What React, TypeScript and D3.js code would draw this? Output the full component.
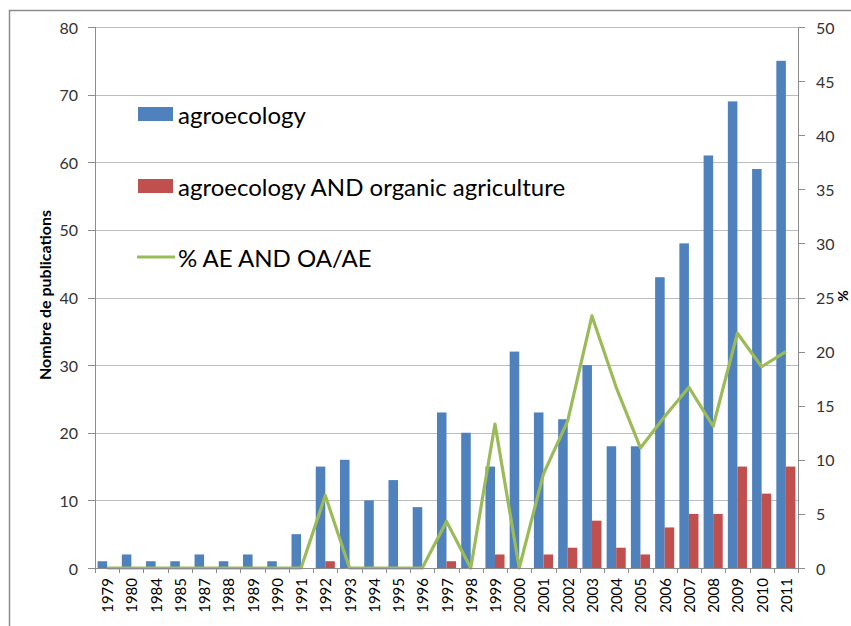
import React from 'react'
import * as d3 from 'd3'

// data
const years = ['1979', '1980', '1984', '1985', '1987', '1988', '1989', '1990', '1991', '1992', '1993', '1994', '1995', '1996', '1997', '1998', '1999', '2000', '2001', '2002', '2003', '2004', '2005', '2006', '2007', '2008', '2009', '2010', '2011']
const agroecology = [1, 2, 1, 1, 2, 1, 2, 1, 5, 15, 16, 10, 13, 9, 23, 20, 15, 32, 23, 22, 30, 18, 18, 43, 48, 61, 69, 59, 75]
const organic = [0, 0, 0, 0, 0, 0, 0, 0, 0, 1, 0, 0, 0, 0, 1, 0, 2, 0, 2, 3, 7, 3, 2, 6, 8, 8, 15, 11, 15]
const percent = [0, 0, 0, 0, 0, 0, 0, 0, 0, 6.7, 0, 0, 0, 0, 4.3, 0, 13.3, 0, 8.7, 13.6, 23.3, 16.7, 11.1, 14, 16.7, 13.1, 21.7, 18.6, 20]
const leftTicks = [0, 10, 20, 30, 40, 50, 60, 70, 80]
const rightTicks = [0, 5, 10, 15, 20, 25, 30, 35, 40, 45, 50]
const seriesNames = ['agroecology', 'agroecology AND organic agriculture', '% AE AND OA/AE']

const W = 851
const H = 626
const font = 'Lato, "Open Sans", sans-serif'

const App = () => {
  const plot = { left: 95, right: 798, top: 27, bottom: 568 }

  const x = d3.scaleBand<string>()
    .domain(years)
    .range([plot.left, plot.right])
    .padding(0)

  const xSub = d3.scaleBand<string>()
    .domain(['ae', 'oa'])
    .range([0, x.bandwidth()])
    .paddingInner(0)
    .paddingOuter(0.27)

  const yLeft = d3.scaleLinear().domain([0, 80]).range([plot.bottom, plot.top])
  const yRight = d3.scaleLinear().domain([0, 50]).range([plot.bottom, plot.top])

  const line = d3.line<number>()
    .x((_, i) => x(years[i])! + x.bandwidth() / 2)
    .y(d => yRight(d))

  const textCol = '#333'

  return (
    <svg width={W} height={H} style={{ position: 'absolute', left: 0, top: 0, background: '#fff' }}>
      {/* outer frame */}
      <rect x={9.5} y={10.5} width={W + 20} height={H + 20} fill="none" stroke="#8c8c8c" strokeWidth={1.5} />

      {/* gridlines */}
      {leftTicks.filter(t => t > 0).map(t => (
        <line key={'g' + t} x1={plot.left} x2={plot.right} y1={Math.round(yLeft(t)) + 0.5} y2={Math.round(yLeft(t)) + 0.5} stroke="#bdbdbd" strokeWidth={1.2} />
      ))}

      {/* bars */}
      {years.map((yr, i) => (
        <g key={yr}>
          <rect x={x(yr)! + xSub('ae')!} y={yLeft(agroecology[i])} width={xSub.bandwidth()} height={plot.bottom - yLeft(agroecology[i])} fill="#4f81bd" />
          {organic[i] > 0 && (
            <rect x={x(yr)! + xSub('oa')!} y={yLeft(organic[i])} width={xSub.bandwidth()} height={plot.bottom - yLeft(organic[i])} fill="#c0504d" />
          )}
        </g>
      ))}

      {/* line */}
      <path d={line(percent)!} fill="none" stroke="#9bbb59" strokeWidth={3.2} strokeLinejoin="round" />

      {/* left axis */}
      <line x1={plot.left + 0.5} x2={plot.left + 0.5} y1={plot.top} y2={plot.bottom} stroke="#8c8c8c" />
      {leftTicks.map(t => (
        <g key={'l' + t}>
          <line x1={88} x2={plot.left} y1={Math.round(yLeft(t)) + 0.5} y2={Math.round(yLeft(t)) + 0.5} stroke="#8c8c8c" />
          <text x={78} y={yLeft(t)} textAnchor="end" dominantBaseline="central" fontFamily={font} fontSize={16} fill={textCol}>{t}</text>
        </g>
      ))}

      {/* right axis */}
      <line x1={plot.right + 0.5} x2={plot.right + 0.5} y1={plot.top} y2={plot.bottom} stroke="#8c8c8c" />
      {rightTicks.map(t => (
        <g key={'r' + t}>
          <line x1={plot.right} x2={805} y1={Math.round(yRight(t)) + 0.5} y2={Math.round(yRight(t)) + 0.5} stroke="#8c8c8c" />
          <text x={816} y={yRight(t)} textAnchor="start" dominantBaseline="central" fontFamily={font} fontSize={16} fill={textCol}>{t}</text>
        </g>
      ))}

      {/* bottom axis */}
      <line x1={plot.left} x2={plot.right + 1} y1={plot.bottom + 0.5} y2={plot.bottom + 0.5} stroke="#8c8c8c" />
      {years.concat(['end']).map((yr, i) => {
        const xp = Math.round(plot.left + i * x.step()) + 0.5
        return <line key={'t' + yr} x1={xp} x2={xp} y1={plot.bottom} y2={plot.bottom + 5} stroke="#8c8c8c" />
      })}
      {years.map(yr => {
        const cx = x(yr)! + x.bandwidth() / 2
        return (
          <text key={'x' + yr} transform={`translate(${cx},${plot.bottom + 10}) rotate(-90)`} textAnchor="end" dominantBaseline="central" fontFamily={font} fontSize={15} fill="#000">{yr}</text>
        )
      })}

      {/* axis titles */}
      <text transform={`translate(44,295) rotate(-90)`} textAnchor="middle" dominantBaseline="central" fontFamily={font} fontSize={16} fontWeight="bold" fill="#000">Nombre de publications</text>
      <text transform={`translate(843,296) rotate(90)`} textAnchor="middle" dominantBaseline="central" fontFamily={font} fontSize={14} fontWeight="bold" fill="#000">%</text>

      {/* legend */}
      <rect x={138} y={107} width={35} height={14} fill="#4f81bd" />
      <text x={178} y={114} dominantBaseline="central" fontFamily={font} fontSize={24} fill="#000">{seriesNames[0]}</text>
      <rect x={138} y={179} width={35} height={14} fill="#c0504d" />
      <text x={178} y={186} dominantBaseline="central" fontFamily={font} fontSize={24} fill="#000">{seriesNames[1]}</text>
      <line x1={137} x2={175} y1={257} y2={257} stroke="#9bbb59" strokeWidth={3} />
      <text x={178} y={257} dominantBaseline="central" fontFamily={font} fontSize={24} fill="#000">{seriesNames[2]}</text>
    </svg>
  )
}

export default App
